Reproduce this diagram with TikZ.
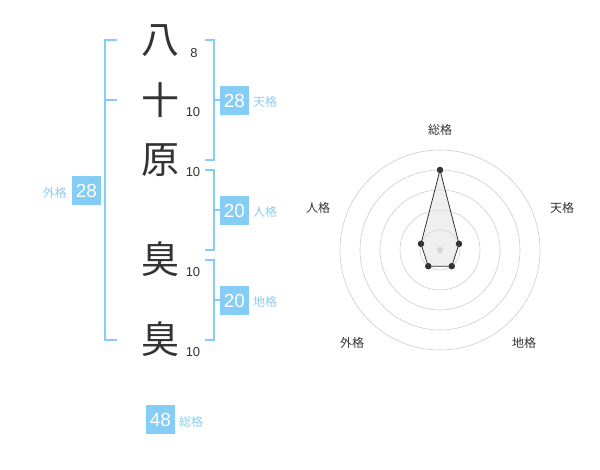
\documentclass[tikz,border=0pt]{standalone}
\usepackage{fontspec}
\usetikzlibrary{calc}
\setmainfont{Noto Sans CJK JP}
\newfontfamily\numfont{Liberation Sans}
\definecolor{kblue}{HTML}{86CDF5}
\definecolor{klabel}{HTML}{8CCCF0}
\definecolor{kdark}{HTML}{333333}
\definecolor{kgrid}{HTML}{CCCCCC}
\begin{document}
\begin{tikzpicture}[x=1pt,y=-1pt,
  kanji/.style={font=\fontsize{38}{38}\selectfont, text=kdark, inner sep=0pt},
  strokes/.style={font=\numfont\fontsize{13}{13}\selectfont, text=kdark, inner sep=0pt},
  valbox/.style={fill=kblue, text=white, font=\numfont\fontsize{19}{19}\selectfont, minimum width=29pt, minimum height=29pt, inner sep=0pt},
  kaku/.style={font=\fontsize{12}{12}\selectfont, text=klabel, inner sep=0pt},
  brk/.style={draw=kblue, line width=1.6pt},
  rlabel/.style={font=\fontsize{12}{12}\selectfont, text=kdark, inner sep=0pt},
  dot/.style={circle, fill=kdark, inner sep=0pt, minimum size=6.5pt}]
\useasboundingbox (0,0) rectangle (600,470);
% characters
\node[kanji] (c1) at (160.5,41) {八};
\node[kanji] (c2) at (160.5,100) {十};
\node[kanji] (c3) at (160.5,160) {原};
\node[kanji] (c4) at (160.5,259) {臭};
\node[kanji] (c5) at (160.5,339) {臭};
\node[strokes] (s1) at (194,53) {8};
\node[strokes] (s2) at (193,112) {10};
\node[strokes] (s3) at (193,172) {10};
\node[strokes] (s4) at (193,272) {10};
\node[strokes] (s5) at (193,352) {10};
% left bracket (gaikaku)
\coordinate (lt) at (117,40);
\coordinate (lm) at (117,100);
\coordinate (lb) at (117,340);
\draw[brk] (lt) -| (105,340) -- (lb);
\draw[brk] (105,100) -- (lm);
% right brackets
\draw[brk] (205,40) -| (214,160) -- (205,160);
\draw[brk] (214,100) -- (220,100);
\draw[brk] (205,170) -| (214,250) -- (205,250);
\draw[brk] (214,210) -- (220,210);
\draw[brk] (205,260) -| (214,340) -- (205,340);
\draw[brk] (214,300) -- (220,300);
% value boxes
\node[valbox] (ten) at (234.5,100.5) {28};
\node[kaku, anchor=west] (tenl) at (253,102) {天格};
\node[valbox] (jin) at (234.5,210.5) {20};
\node[kaku, anchor=west] (jinl) at (253,212) {人格};
\node[valbox] (chi) at (234.5,300.5) {20};
\node[kaku, anchor=west] (chil) at (253,302) {地格};
\node[valbox] (gai) at (86.5,191) {28};
\node[kaku, anchor=east] (gail) at (67,193) {外格};
\node[valbox] (sou) at (160.5,419.5) {48};
\node[kaku, anchor=west] (soul) at (179,422) {総格};
% radar chart
\coordinate (rc) at (440,250);
\foreach \r in {20,40,60,80,100} \draw[kgrid, line width=0.6pt] (rc) circle[radius=\r];
\fill[kgrid] (rc) circle[radius=3.2];
\coordinate (pS) at ($(rc)+(0,-80)$);
\coordinate (pT) at ($(rc)+(-18:20)$);
\coordinate (pC) at ($(rc)+(54:20)$);
\coordinate (pG) at ($(rc)+(126:20)$);
\coordinate (pJ) at ($(rc)+(198:20)$);
\filldraw[fill=gray!25, fill opacity=0.5, draw=kdark, line width=0.8pt] (pS) -- (pT) -- (pC) -- (pG) -- (pJ) -- cycle;
\foreach \p in {pS,pT,pC,pG,pJ} \node[dot] at (\p) {};
\node[rlabel] (lS) at (440,130) {総格};
\node[rlabel] (lT) at (562,208) {天格};
\node[rlabel] (lC) at (524,343) {地格};
\node[rlabel] (lG) at (352,343) {外格};
\node[rlabel] (lJ) at (318,208) {人格};
\end{tikzpicture}
\end{document}
